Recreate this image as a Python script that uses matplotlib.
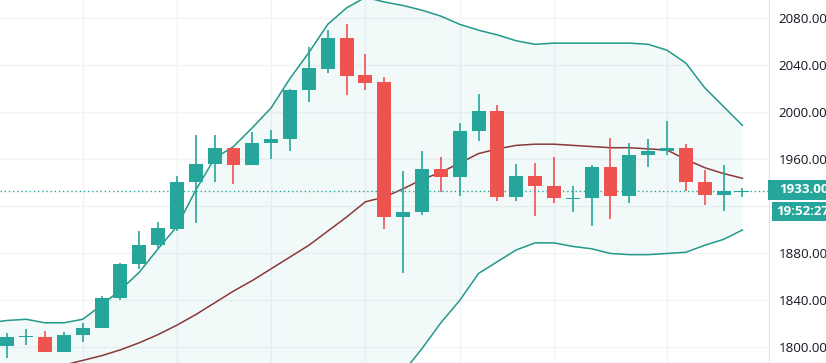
#!/usr/bin/env python3
import numpy as np
import matplotlib
matplotlib.use("Agg")
import matplotlib.pyplot as plt
from matplotlib.patches import Rectangle

# velas (open, high, low, close)
opens = [1801, 1809, 1809, 1796, 1811, 1817, 1842, 1871, 1887, 1901,
         1941, 1956, 1970, 1955, 1974, 1977, 2019, 2037, 2063, 2032,
         2026, 1911, 1915, 1952, 1945, 1984, 2001, 1928, 1946, 1937,
         1927, 1927, 1954, 1929, 1964, 1967, 1970, 1941, 1930, 1933]
highs = [1812, 1816, 1814, 1813, 1821, 1844, 1872, 1899, 1907, 1946,
         1981, 1981, 1970, 1983, 1985, 2020, 2056, 2070, 2075, 2050,
         2030, 1950, 1967, 1962, 1991, 2016, 2006, 1956, 1957, 1962,
         1937, 1955, 1978, 1974, 1977, 1993, 1973, 1951, 1955, 1936]
lows = [1791, 1802, 1796, 1796, 1805, 1817, 1840, 1867, 1884, 1899,
        1906, 1941, 1939, 1955, 1960, 1967, 2009, 2034, 2015, 2019,
        1901, 1863, 1913, 1932, 1929, 1976, 1925, 1925, 1912, 1923,
        1915, 1903, 1909, 1923, 1954, 1964, 1933, 1921, 1916, 1928]
closes = [1809, 1809, 1796, 1811, 1817, 1842, 1871, 1887, 1902, 1941,
          1956, 1970, 1955, 1974, 1977, 2019, 2038, 2063, 2031, 2025,
          1911, 1915, 1952, 1945, 1984, 2001, 1928, 1946, 1937, 1927,
          1927, 1954, 1929, 1964, 1967, 1970, 1941, 1930, 1933, 1933]

# Bandas de Bollinger (primer valor = vela anterior, fuera de pantalla)
bb_upper = [1821, 1823, 1824, 1821, 1821, 1824, 1836, 1849, 1864, 1884,
            1903, 1934, 1961, 1971, 1987, 2004, 2029, 2051, 2075, 2089,
            2098, 2094, 2091, 2087, 2082, 2075, 2070, 2066, 2061, 2058,
            2059, 2059, 2059, 2059, 2059, 2058, 2053, 2042, 2021, 2005,
            1989]
bb_basis = [1772, 1775, 1779, 1782, 1785, 1789, 1793, 1798, 1804, 1811,
            1819, 1828, 1838, 1848, 1857, 1867, 1877, 1887, 1899, 1911,
            1924, 1928, 1935, 1943, 1949, 1957, 1965, 1969, 1972, 1973,
            1973, 1972, 1971, 1970, 1970, 1969, 1968, 1960, 1953, 1948,
            1944]
bb_lower = [1723, 1728, 1734, 1743, 1749, 1754, 1750, 1747, 1744, 1738,
            1735, 1722, 1715, 1725, 1727, 1730, 1725, 1723, 1723, 1733,
            1750, 1762, 1779, 1799, 1821, 1840, 1863, 1873, 1883, 1889,
            1889, 1886, 1884, 1880, 1879, 1879, 1880, 1881, 1887, 1892,
            1900]

price_ticks = [1800, 1840, 1880, 1920, 1960, 2000, 2040, 2080]
time_grid = [4, 9, 14, 19, 24, 29, 35]  # lineas verticales (cambio de periodo)
last_price = "1933.00"
countdown = "19:52:27"

UP = "#26a69a"
DOWN = "#ef5350"
BAND = "#23988b"
BASIS = "#8a3838"
GRID = "#f1f3f5"

W, H = 826, 363


def main():
    fig = plt.figure(figsize=(W / 100, H / 100), dpi=100)
    ax = fig.add_axes([0, 0, 769 / W, 1])

    n = len(opens)
    x = np.arange(n)
    xb = np.arange(-1, n)

    # rejilla
    for p in price_ticks:
        ax.axhline(p, color=GRID, lw=1, zorder=0)
    for g in time_grid:
        ax.axvline(g, color=GRID, lw=1, zorder=0)

    # bandas
    ax.fill_between(xb, bb_lower, bb_upper, color=UP, alpha=0.06, lw=0, zorder=1)
    ax.plot(xb, bb_upper, color=BAND, lw=1.1, zorder=2)
    ax.plot(xb, bb_lower, color=BAND, lw=1.1, zorder=2)
    ax.plot(xb, bb_basis, color=BASIS, lw=1.1, zorder=2)

    # velas
    w = 0.74
    for i in range(n):
        o, h, l, c = opens[i], highs[i], lows[i], closes[i]
        col = UP if c >= o else DOWN
        ax.vlines(x[i], l, h, color=col, lw=1.2, zorder=3)
        body = max(abs(c - o), 1.0)
        ax.bar(x[i], body, bottom=min(o, c) if abs(c - o) >= 1 else o - 0.5,
               width=w, color=col, lw=0, zorder=4)

    # linea del ultimo precio
    ax.axhline(float(last_price), color=UP, lw=1, ls=(0, (1, 2)), zorder=2)

    ax.set_xlim(-0.387, 40.41)
    ax.set_ylim(1786.8, 2095.7)

    for s in ["top", "left", "bottom"]:
        ax.spines[s].set_visible(False)
    ax.spines["right"].set_color("#e0e3eb")
    ax.set_xticks([])
    ax.yaxis.tick_right()
    ax.set_yticks([p for p in price_ticks if p != 1920])
    ax.set_yticklabels([f"{p:.2f}" for p in price_ticks if p != 1920])
    ax.tick_params(axis="y", length=0, pad=7, labelsize=9.6, labelcolor="#131722")
    for lab in ax.get_yticklabels():
        lab.set_fontfamily("Open Sans")

    # etiquetas de precio y tiempo (cajas en pixeles de la figura)
    fig.add_artist(Rectangle((768 / W, 1 - 200 / H), 58 / W, 20 / H,
                             transform=fig.transFigure, color=UP, lw=0))
    fig.add_artist(Rectangle((772 / W, 1 - 221 / H), 54 / W, 19 / H,
                             transform=fig.transFigure, color=UP, lw=0))
    fig.text(779 / W, 1 - 190 / H, last_price, color="white", fontsize=9.6,
             fontweight="bold", family="Open Sans", va="center", ha="left")
    fig.text(776 / W, 1 - 211.5 / H, countdown, color="white", fontsize=9.6,
             fontweight="bold", family="Open Sans", va="center", ha="left")

    fig.savefig("out.png", dpi=100)


if __name__ == "__main__":
    main()
